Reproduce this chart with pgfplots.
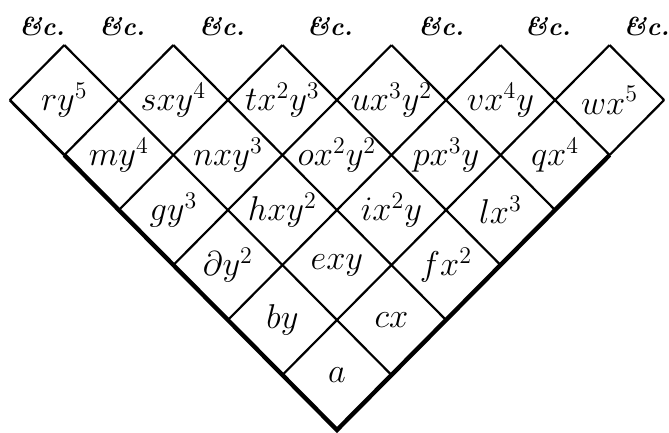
\documentclass[border=0pt]{standalone}
\usepackage{pgfplots}
\pgfplotsset{compat=1.18}
\begin{document}
\begin{tikzpicture}
\begin{axis}[
  scale only axis, width=334.5bp, height=216.5bp,
  xmin=-6.18, xmax=6.09, ymin=-0.055, ymax=7.82,
  hide axis, clip=false,
]
% lines of constant p (running up-left)
\addplot[black, line width=1.1pt] coordinates {(1,1) (-5,7)};
\addplot[black, line width=1.1pt] coordinates {(2,2) (-3,7)};
\addplot[black, line width=1.1pt] coordinates {(3,3) (-1,7)};
\addplot[black, line width=1.1pt] coordinates {(4,4) (1,7)};
\addplot[black, line width=1.1pt] coordinates {(5,5) (3,7)};
\addplot[black, line width=1.1pt] coordinates {(6,6) (5,7)};
% lines of constant q (running up-right)
\addplot[black, line width=1.1pt] coordinates {(-1,1) (5,7)};
\addplot[black, line width=1.1pt] coordinates {(-2,2) (3,7)};
\addplot[black, line width=1.1pt] coordinates {(-3,3) (1,7)};
\addplot[black, line width=1.1pt] coordinates {(-4,4) (-1,7)};
\addplot[black, line width=1.1pt] coordinates {(-5,5) (-3,7)};
\addplot[black, line width=1.1pt] coordinates {(-6,6) (-5,7)};
% outer edges
\addplot[black, line width=1.4pt] coordinates {(-6,6) (-5,5)};
\addplot[black, line width=1.1pt] coordinates {(5,5) (6,6)};
\addplot[black, line width=2.2pt, line join=miter] coordinates {(-5,5) (0,0) (5,5)};
% terms
\addplot[draw=none, point meta=explicit symbolic, nodes near coords,
  nodes near coords align={anchor=center},
  every node near coord/.append style={font=\fontsize{16.5}{19}\selectfont, inner sep=0pt}]
  coordinates {
  (0,1) [$a$]
  (-1,2) [$by$] (1,2) [$cx$]
  (-2,3) [$\partial y^2$] (0,3) [$exy$] (2,3) [$fx^2$]
  (-3,4) [$gy^3$] (-1,4) [$hxy^2$] (1,4) [$ix^2y$] (3,4) [$lx^3$]
  (-4,5) [$my^4$] (-2,5) [$nxy^3$] (0,5) [$ox^2y^2$] (2,5) [$px^3y$] (4,5) [$qx^4$]
  (-5,6) [$ry^5$] (-3,6) [$sxy^4$] (-1,6) [$tx^2y^3$] (1,6) [$ux^3y^2$] (3,6) [$vx^4y$] (5,6) [$wx^5$]
  };
% &c.
\addplot[draw=none, point meta=explicit symbolic, nodes near coords,
  nodes near coords align={anchor=center},
  every node near coord/.append style={font=\fontsize{13}{15}\selectfont\bfseries\itshape, inner sep=0pt}]
  coordinates {
  (-5.41,7.33) [\&c.] (-3.94,7.33) [\&c.] (-2.11,7.33) [\&c.] (-0.13,7.33) [\&c.]
  (1.91,7.33) [\&c.] (3.87,7.33) [\&c.] (5.68,7.33) [\&c.]
  };
\end{axis}
\pgfresetboundingbox
\useasboundingbox (current axis.south west) rectangle (current axis.north east);
\end{tikzpicture}
\end{document}
